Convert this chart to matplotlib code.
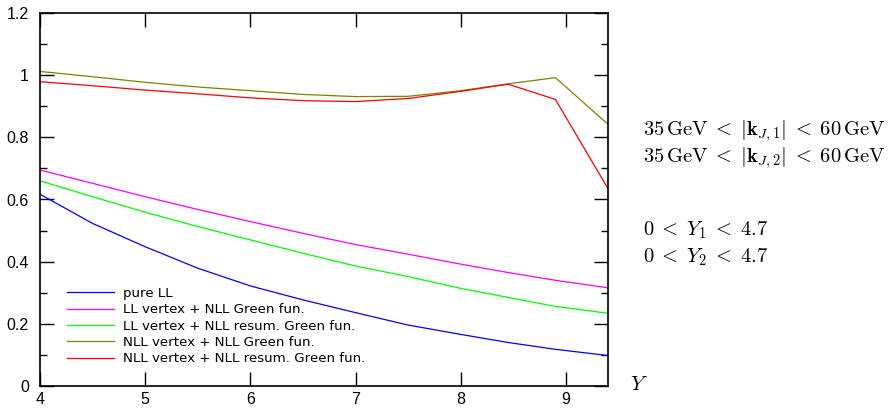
import matplotlib
matplotlib.use("Agg")
import matplotlib.pyplot as plt
from matplotlib.ticker import MultipleLocator

plt.rcParams['mathtext.fontset'] = 'cm'

# rapidity interval Y and ratios
Y = [4.0, 4.5, 5.0, 5.5, 6.0, 6.5, 7.0, 7.5, 8.0, 8.45, 8.9, 9.4]
pure_ll = [0.617, 0.523, 0.448, 0.379, 0.322, 0.277, 0.236, 0.196, 0.166, 0.140, 0.118, 0.098]
ll_nll_green = [0.695, 0.652, 0.609, 0.568, 0.529, 0.491, 0.455, 0.424, 0.392, 0.365, 0.340, 0.316]
ll_nll_resum = [0.660, 0.609, 0.559, 0.513, 0.470, 0.427, 0.386, 0.352, 0.314, 0.285, 0.256, 0.234]
nll_nll_green = [1.012, 0.995, 0.977, 0.962, 0.950, 0.938, 0.931, 0.932, 0.950, 0.972, 0.992, 0.842]
nll_nll_resum = [0.979, 0.966, 0.952, 0.940, 0.927, 0.918, 0.915, 0.925, 0.948, 0.971, 0.922, 0.635]

series = [
    (pure_ll, 'pure LL', '#0000ff'),
    (ll_nll_green, 'LL vertex + NLL Green fun.', '#ff00ff'),
    (ll_nll_resum, 'LL vertex + NLL resum. Green fun.', '#00ff00'),
    (nll_nll_green, 'NLL vertex + NLL Green fun.', '#808000'),
    (nll_nll_resum, 'NLL vertex + NLL resum. Green fun.', '#ff0000'),
]

fig = plt.figure(figsize=(8.88, 4.11), dpi=100)
ax = fig.add_axes([40 / 888, 25 / 411, 568 / 888, 373 / 411])

for vals, label, color in series:
    ax.plot(Y, vals, color=color, lw=0.9, label=label)

ax.set_xlim(4, 9.4)
ax.set_ylim(0, 1.2)
ax.xaxis.set_major_locator(MultipleLocator(1))
ax.yaxis.set_minor_locator(MultipleLocator(0.1))
ax.set_yticks([0, 0.2, 0.4, 0.6, 0.8, 1.0, 1.2])
ax.set_yticklabels(['0', '0.2', '0.4', '0.6', '0.8', '1', '1.2'])

ax.tick_params(which='both', direction='in', top=True, right=True, width=1.0,
               labelsize=11.5, labelfontfamily='Liberation Sans')
ax.tick_params(which='major', length=10)
ax.tick_params(which='minor', length=5)
ax.tick_params(axis='x', pad=4)
ax.tick_params(axis='y', pad=8)
for sp in ax.spines.values():
    sp.set_linewidth(1.2)

leg = ax.legend(loc='lower left', bbox_to_anchor=(27 / 568, 0.055), frameon=False,
                fontsize=9.6, handlelength=3.5, handletextpad=0.7, labelspacing=0.25,
                borderpad=0, borderaxespad=0)

fig.text(630 / 888, 1 - 384 / 411, r'$Y$', fontsize=15, va='center', ha='left')

fs = 14.8
fig.text(643 / 888, 1 - 131 / 411,
         r'$35\,\mathrm{GeV}\;<\;|\mathbf{k}_{J,1}|\;<\;60\,\mathrm{GeV}$',
         fontsize=fs, va='center', ha='left')
fig.text(643 / 888, 1 - 158 / 411,
         r'$35\,\mathrm{GeV}\;<\;|\mathbf{k}_{J,2}|\;<\;60\,\mathrm{GeV}$',
         fontsize=fs, va='center', ha='left')
fig.text(643 / 888, 1 - 230 / 411, r'$0\;<\;Y_1\;<\;4.7$', fontsize=fs, va='center', ha='left')
fig.text(643 / 888, 1 - 257 / 411, r'$0\;<\;Y_2\;<\;4.7$', fontsize=fs, va='center', ha='left')

fig.savefig('out.png', dpi=100)
